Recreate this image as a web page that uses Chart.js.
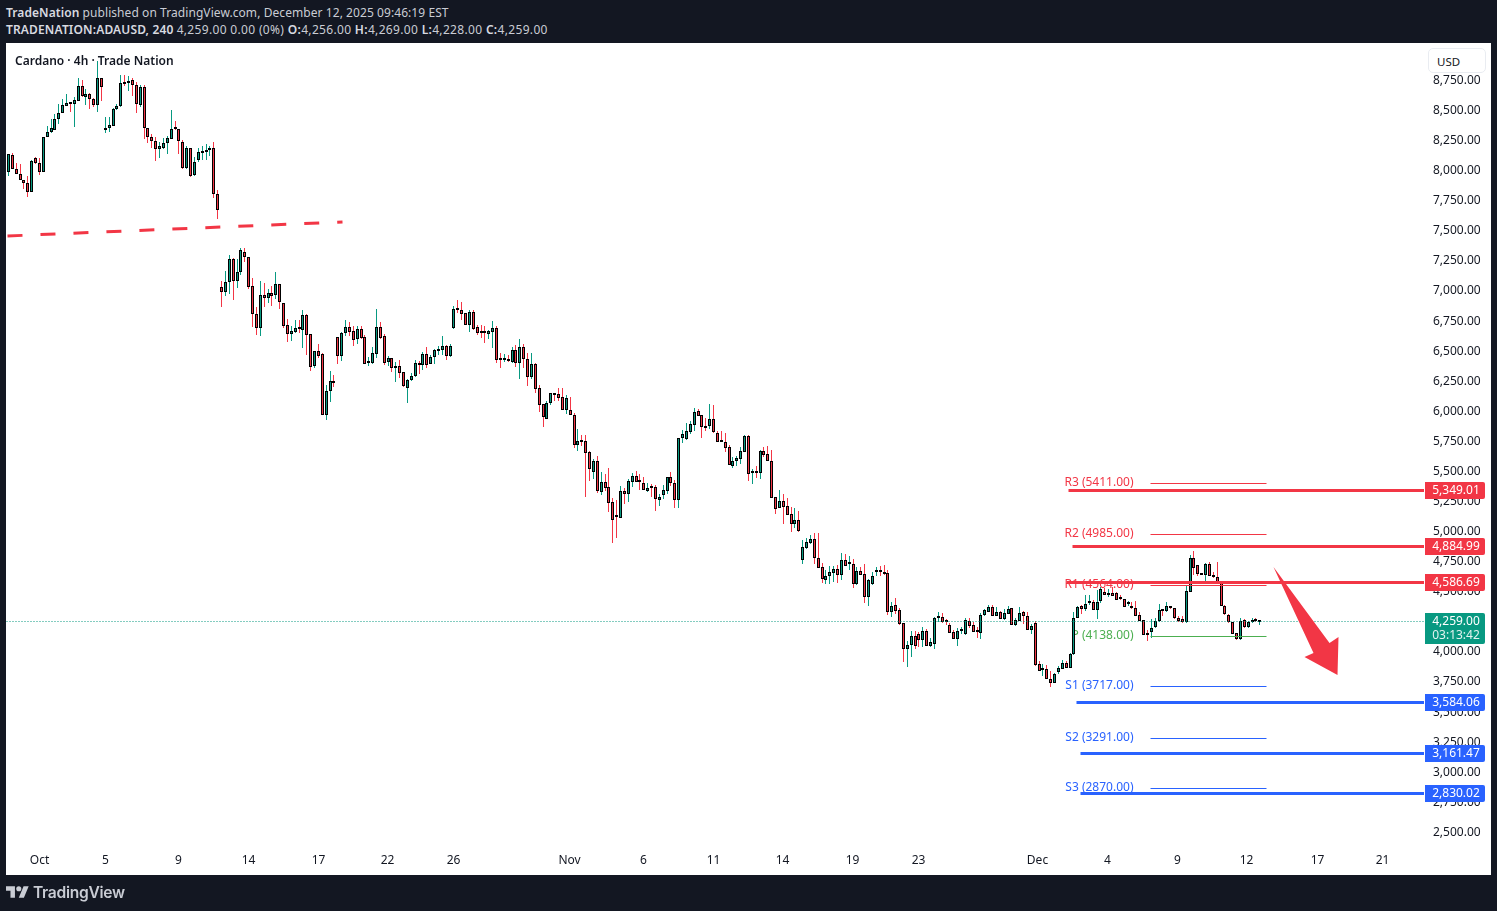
<!DOCTYPE html>
<html><head><meta charset="utf-8"><title>Cardano 4h</title>
<script src="https://cdn.jsdelivr.net/npm/chart.js@4"></script>
<style>
html,body{margin:0;padding:0;width:1497px;height:911px;background:#131722;overflow:hidden;font-family:"Noto Sans",sans-serif}
.a{position:absolute;white-space:nowrap}
#plot{left:6px;top:43px;width:1485px;height:832px;background:#fff}
canvas{position:absolute;left:0;top:0}
.h{color:#c9ccd4;font-size:12px;line-height:16px;left:6px;letter-spacing:.07px}
.h b{font-weight:600;color:#d8dae0}
.n{letter-spacing:.33px}
#usd{left:1428px;top:48px;width:58px;height:25px;background:#fff;border:1px solid #e9ecf1;border-radius:5px;box-sizing:border-box;color:#131722;font-size:11.5px;line-height:25px;padding-left:8px}
#ttl{left:15px;top:53px;color:#131722;font-size:12px;font-weight:600;line-height:16px}
#tv{left:33px;top:883px;color:#c9ccd4;font-size:15.6px;font-weight:600;line-height:20px;font-family:Inter,"Noto Sans",sans-serif;letter-spacing:-.3px}
</style></head><body>
<div class="a" id="plot"></div>
<div class="a h" style="top:5px"><b>TradeNation</b> published on TradingView.com, December 12, 2025 09:46:19 EST</div>
<div class="a h" style="top:22px"><b style="letter-spacing:.15px">TRADENATION:ADAUSD, 240</b> <span class="n">4,259.00 0.00 (0%) <b>O:</b>4,256.00 <b>H:</b>4,269.00 <b>L:</b>4,228.00 <b>C:</b>4,259.00</span></div>
<canvas id="c" width="1497" height="911"></canvas>
<div class="a" id="ttl">Cardano · 4h · Trade Nation</div>
<div class="a" id="usd">USD</div>
<svg class="a" style="left:6px;top:884px" width="23" height="16" viewBox="0 3 36 20"><path fill="#c9ccd4" d="M14 22H7V11H0V4h14v18zM28 22h-8l7.5-18h8L28 22z"/><circle fill="#c9ccd4" cx="20" cy="8" r="4"/></svg>
<div class="a" id="tv">TradingView</div>
<script>
const opens=[7989,8134,8014,7973,7923,7898,7829,8106,8064,7995,8280,8322,8344,8436,8485,8544,8560,8555,8585,8704,8618,8638,8596,8546,8771,8339,8355,8377,8513,8538,8729,8735,8754,8713,8552,8696,8355,8286,8253,8181,8189,8231,8269,8361,8347,8244,8023,8189,7965,8092,8153,8156,8172,8189,7807,7034,6998,7075,7266,7089,7158,7324,7283,7042,6815,6693,6967,6948,6984,6967,7058,6900,6718,6648,6665,6695,6682,6801,6643,6382,6501,6477,5975,6174,6252,6618,6465,6651,6701,6668,6601,6684,6618,6407,6407,6482,6701,6626,6416,6443,6360,6377,6327,6194,6260,6294,6402,6391,6477,6399,6452,6507,6510,6543,6460,6698,6851,6843,6818,6724,6826,6702,6660,6660,6649,6666,6693,6436,6433,6436,6416,6510,6408,6535,6436,6292,6394,6195,6062,5942,6075,6153,6145,6120,6017,6012,5970,5726,5754,5754,5663,5502,5588,5336,5413,5372,5247,5130,5119,5338,5319,5419,5463,5421,5405,5341,5372,5372,5269,5311,5344,5455,5405,5269,5784,5776,5834,5892,6003,5970,5878,5884,5936,5820,5753,5751,5704,5551,5593,5609,5668,5798,5493,5498,5493,5670,5645,5595,5288,5202,5255,5213,5147,5069,5097,4770,4869,4911,4939,4781,4706,4603,4637,4662,4692,4645,4764,4734,4731,4570,4673,4648,4462,4570,4670,4673,4664,4656,4337,4398,4349,4241,4030,4058,4133,4152,4102,4182,4055,4072,4288,4296,4252,4232,4166,4113,4179,4155,4260,4224,4174,4163,4307,4338,4374,4304,4335,4277,4321,4365,4230,4263,4332,4299,4188,4241,3900,3858,3861,3783,3747,3839,3864,3911,3872,3983,4288,4384,4357,4407,4423,4354,4431,4498,4476,4490,4490,4445,4445,4399,4384,4371,4307,4266,4149,4171,4213,4257,4349,4346,4376,4368,4282,4277,4249,4504,4781,4725,4645,4640,4731,4642,4623,4573,4385,4307,4252,4158,4108,4266,4210,4249,4268,4256];
const highs=[8139,8150,8067,8059,7929,7962,8092,8120,8106,8286,8377,8433,8472,8555,8599,8638,8577,8618,8774,8757,8682,8649,8605,8915,8771,8449,8452,8521,8555,8799,8799,8790,8771,8743,8715,8715,8355,8308,8286,8239,8272,8292,8508,8416,8347,8258,8208,8189,8120,8195,8208,8225,8208,8242,7843,7086,7169,7302,7275,7269,7360,7360,7283,7111,6870,7086,7070,7020,7045,7158,7058,6900,6770,6712,6762,6762,6845,6812,6643,6501,6562,6490,6222,6338,6305,6618,6662,6762,6745,6712,6712,6712,6637,6452,6537,6853,6745,6646,6463,6443,6413,6427,6327,6269,6319,6427,6421,6493,6535,6471,6521,6543,6629,6554,6562,6881,6928,6912,6818,6846,6846,6721,6721,6713,6679,6754,6713,6488,6480,6472,6541,6555,6605,6563,6488,6488,6402,6222,6062,6089,6153,6153,6197,6197,6139,6123,5987,5856,5807,5807,5674,5607,5632,5502,5482,5535,5283,5266,5383,5366,5444,5491,5507,5480,5457,5405,5399,5391,5316,5391,5455,5499,5433,5779,5848,5906,5920,6028,6022,5970,5945,6064,6055,5842,5839,5823,5723,5626,5631,5706,5806,5806,5523,5546,5681,5706,5715,5681,5288,5349,5316,5280,5205,5199,5174,4933,4955,4980,4989,4989,4742,4684,4717,4717,4725,4825,4817,4800,4775,4706,4711,4734,4609,4667,4706,4717,4725,4689,4421,4451,4365,4241,4097,4177,4177,4166,4213,4191,4119,4296,4340,4329,4274,4241,4185,4207,4213,4285,4285,4252,4213,4324,4363,4393,4393,4374,4346,4360,4388,4365,4288,4376,4346,4340,4235,4263,3930,3905,3894,3842,3825,3891,3936,3930,3991,4340,4385,4393,4476,4481,4434,4517,4542,4537,4526,4545,4498,4476,4445,4426,4421,4426,4338,4266,4185,4274,4282,4399,4360,4421,4385,4368,4299,4299,4559,4812,4842,4725,4656,4739,4753,4670,4750,4579,4390,4318,4252,4158,4282,4274,4260,4290,4285,4269];
const lows=[7962,8014,7973,7923,7851,7784,7829,8056,7970,7989,8280,8314,8339,8391,8480,8538,8494,8369,8582,8618,8549,8516,8533,8494,8585,8319,8325,8372,8508,8535,8710,8668,8627,8485,8533,8269,8236,8189,8086,8111,8181,8139,8267,8341,8139,8017,8017,7953,7962,8078,8092,8092,8128,7779,7604,6870,6964,6978,6928,7028,7136,7244,7020,6704,6637,6629,6870,6903,6878,6937,6853,6695,6579,6587,6657,6654,6529,6471,6338,6363,6446,5975,5931,6080,6205,6396,6421,6632,6629,6546,6562,6607,6393,6380,6399,6446,6601,6388,6380,6332,6247,6283,6208,6072,6255,6291,6313,6346,6366,6396,6396,6471,6471,6429,6457,6687,6820,6763,6721,6666,6679,6638,6616,6571,6605,6533,6408,6366,6413,6413,6408,6372,6272,6364,6214,6275,6159,6000,5876,5940,6056,6089,6089,6014,5981,5970,5701,5676,5718,5291,5424,5441,5327,5311,5344,5167,4909,4953,5119,5233,5250,5372,5419,5349,5349,5335,5291,5178,5214,5275,5316,5383,5200,5200,5740,5765,5814,5839,5964,5784,5839,5861,5820,5751,5748,5668,5559,5532,5548,5565,5662,5424,5399,5446,5443,5623,5590,5285,5149,5202,5066,5138,5002,5033,5002,4734,4861,4905,4736,4698,4576,4567,4567,4584,4579,4601,4717,4684,4534,4559,4642,4412,4385,4559,4637,4637,4645,4310,4296,4318,4227,3919,3878,3961,4030,4044,4047,4052,4049,4030,4249,4246,4232,4160,4110,4055,4152,4141,4199,4169,4119,4113,4302,4332,4302,4302,4274,4271,4318,4227,4221,4257,4235,4185,4152,3891,3847,3808,3781,3711,3742,3819,3861,3867,3869,3980,4282,4318,4346,4393,4351,4274,4407,4476,4462,4468,4434,4434,4376,4387,4362,4301,4260,4143,4094,4122,4207,4254,4301,4340,4360,4279,4249,4246,4246,4498,4645,4637,4640,4587,4634,4615,4568,4388,4310,4241,4149,4105,4105,4207,4205,4241,4254,4228];
const closes=[8139,8014,7973,7923,7898,7829,8081,8064,7995,8283,8322,8355,8430,8485,8546,8563,8555,8588,8704,8621,8638,8596,8546,8771,8696,8355,8380,8513,8538,8729,8724,8752,8713,8555,8696,8355,8286,8253,8181,8206,8231,8272,8347,8347,8247,8023,8189,7962,8078,8156,8159,8172,8189,7807,7674,6998,7075,7266,7089,7158,7341,7283,7039,6815,6693,6967,6948,6984,6964,7058,6909,6715,6648,6668,6693,6690,6801,6640,6374,6501,6465,5975,6169,6252,6241,6465,6651,6701,6665,6598,6684,6615,6399,6413,6485,6701,6610,6407,6443,6360,6377,6324,6216,6260,6294,6402,6391,6477,6391,6452,6510,6510,6543,6460,6543,6851,6848,6815,6724,6826,6685,6657,6657,6652,6671,6693,6433,6433,6436,6419,6510,6408,6535,6441,6292,6394,6192,6059,5959,6075,6153,6142,6117,6017,6111,5976,5726,5754,5751,5660,5527,5588,5344,5416,5369,5244,5103,5122,5338,5319,5421,5463,5419,5413,5352,5363,5369,5277,5288,5347,5455,5410,5269,5779,5812,5837,5895,5994,5967,5870,5867,5936,5828,5751,5751,5701,5559,5595,5612,5670,5798,5485,5498,5493,5670,5643,5590,5285,5194,5255,5210,5144,5069,5097,5011,4875,4914,4939,4781,4703,4612,4639,4667,4692,4645,4764,4720,4739,4570,4673,4645,4462,4598,4631,4673,4670,4653,4337,4382,4346,4238,4030,4058,4133,4052,4105,4182,4055,4083,4282,4290,4249,4249,4163,4113,4177,4182,4266,4221,4171,4166,4310,4349,4374,4304,4332,4277,4327,4360,4230,4268,4324,4299,4188,4218,3894,3847,3861,3781,3747,3817,3867,3908,3872,3986,4290,4376,4357,4401,4415,4354,4423,4531,4481,4490,4473,4437,4440,4379,4401,4365,4304,4263,4146,4143,4207,4257,4349,4343,4382,4365,4282,4263,4249,4507,4781,4703,4648,4648,4731,4637,4623,4573,4388,4316,4252,4152,4108,4257,4213,4252,4268,4257,4259];

const xTickLabels=["Oct","5","9","14","17","22","26","Nov","6","11","14","19","23","Dec","4","9","12","17","21"];
const xTickBars=[8,25,44,62,80,97.8,115,144.9,164,182,199.9,217.8,234.9,265.6,283.8,301.8,319.6,337.8,354.6];
const priceTicks=[2500,2750,3000,3250,3500,3750,4000,4250,4500,4750,5000,5250,5500,5750,6000,6250,6500,6750,7000,7250,7500,7750,8000,8250,8500,8750];

const lastPrice=4259;
const resistanceLevels=[5349.01,4884.99,4586.69];
const resistanceStarts=[273.5,274.6,273.1];
const supportLevels=[3584.06,3161.47,2830.02];
const supportStarts=[275.7,276.7,276.7];
const pivotNames=["R3","R2","R1","P","S1","S2","S3"];
const pivotValues=[5411,4985,4564,4138,3717,3291,2870];
const pivotColors=["#F23645","#F23645","#F23645","#4CAF50","#2962FF","#2962FF","#2962FF"];
const trendBars=[-0.3,86.2];
const trendPrices=[7465,7581];
const arrowBars=[326.6,336.8,334.4,343,343.3,341.1];
const arrowPrices=[4706,3992,3958,3811,4125,4075];

const UP="#089981",DN="#F23645";
const dirColor=opens.map((o,i)=>closes[i]>=o?UP:DN);
const fmt=v=>v.toLocaleString("en-US",{minimumFractionDigits:2,maximumFractionDigits:2});
const snap=(off)=>function(scale){
  if(scale._snapped)return; scale._snapped=true;
  const base=scale.getPixelForValue.bind(scale);
  scale.getPixelForValue=v=>Math.round(base(v))+off;
};
const hline=(y,x0,x1,color,w,extra)=>Object.assign({type:"line",data:[{x:x0,y:y},{x:x1,y:y}],borderColor:color,borderWidth:w,pointRadius:0,yAxisID:"yL",order:0,fill:false,tension:0},extra||{});
const datasets=[
 {type:"bar",grouped:false,order:3,data:opens.map((o,i)=>({x:i,y:[lows[i],highs[i]]})),backgroundColor:dirColor,borderWidth:0,barThickness:1,inflateAmount:0},
 {type:"bar",grouped:false,order:2,data:opens.map((o,i)=>({x:i,y:[Math.min(o,closes[i]),Math.max(o,closes[i])]})),backgroundColor:dirColor,borderColor:"#000",borderWidth:1,borderSkipped:false,barThickness:3,minBarLength:2,inflateAmount:0},
 hline(lastPrice,-0.5,365.5,UP,1,{borderDash:[1,2],order:1}),
 {type:"line",data:trendBars.map((b,i)=>({x:b,y:trendPrices[i]})),borderColor:DN,borderWidth:3,borderDash:[15,18],pointRadius:0,yAxisID:"y",order:0,tension:0,fill:false},
 {type:"line",data:arrowBars.map((b,i)=>({x:b,y:arrowPrices[i]})).concat([{x:arrowBars[0],y:arrowPrices[0]}]),borderWidth:0,borderColor:DN,backgroundColor:DN,pointRadius:0,yAxisID:"y",order:-1,tension:0,fill:"shape"},
];
pivotValues.forEach((v,i)=>datasets.push(hline(v,294.8,324.8,pivotColors[i],1,{order:1})));
resistanceLevels.forEach((v,i)=>datasets.push(hline(v,resistanceStarts[i],365.5,DN,3)));
supportLevels.forEach((v,i)=>datasets.push(hline(v,supportStarts[i],365.5,"#2962FF",3)));

const overlay={id:"overlay",
 beforeDatasetsDraw(ch){
  const c=ch.ctx,x=ch.scales.x,y=ch.scales.y;
  c.save();c.font='12px "Noto Sans"';c.textAlign="right";c.textBaseline="middle";
  pivotValues.forEach((v,i)=>{c.fillStyle=pivotColors[i];c.fillText(pivotNames[i]+" ("+fmt(v).replace(",","")+")",x.getPixelForValue(290.7)-1,y.getPixelForValue(v));});
  c.restore();
 },
 afterDraw(ch){
  const c=ch.ctx,y=ch.scales.yL;
  const tag=(v,color)=>{const p=Math.round(y.getPixelForValue(v));c.fillStyle=color;c.beginPath();c.roundRect(1425,p-9,60,17,[0,2,2,0]);c.fill();c.fillStyle="#fff";c.fillText(fmt(v),1456,p);};
  c.save();c.font='12px "Noto Sans"';c.textAlign="center";c.textBaseline="middle";
  resistanceLevels.forEach(v=>tag(v,DN));
  supportLevels.forEach(v=>tag(v,"#2962FF"));
  const p=Math.round(y.getPixelForValue(lastPrice));
  c.fillStyle=UP;c.beginPath();c.roundRect(1425,p-9,60,31,[0,2,2,0]);c.fill();
  c.fillStyle="#fff";c.fillText(fmt(lastPrice),1456,p);c.fillStyle="#e3f3f0";c.fillText("03:13:42",1456,p+14);
  c.restore();
 }};

new Chart(document.getElementById("c"),{
 data:{datasets},
 plugins:[overlay],
 options:{responsive:false,animation:false,devicePixelRatio:1,
  layout:{padding:{left:6,top:43,right:6,bottom:36}},
  plugins:{legend:{display:false},tooltip:{enabled:false}},
  scales:{
   x:{type:"linear",offset:false,min:-0.5,max:365.5,grid:{display:false,offset:false},border:{display:false},
     afterBuildTicks(s){s.ticks=xTickBars.map(v=>({value:v}));snap(0.5)(s);},
     afterFit(s){s.height=32;s.paddingLeft=0;s.paddingRight=0;},
     ticks:{autoSkip:false,maxRotation:0,padding:2,color:"#131722",font:{family:"Noto Sans",size:12},callback:v=>xTickLabels[xTickBars.indexOf(v)]}},
   y:{type:"linear",position:"right",min:2416,max:9065,grid:{display:false},border:{display:false},
     afterBuildTicks(s){s.ticks=priceTicks.map(v=>({value:v}));snap(0)(s);},
     afterFit(s){s.width=67;},
     ticks:{autoSkip:false,align:"center",crossAlign:"near",padding:1,labelOffset:-0.4,color:"#131722",font:{family:"Noto Sans",size:12},callback:v=>fmt(v)}},
   yL:{type:"linear",display:false,position:"right",min:2416,max:9065,
     afterBuildTicks(s){snap(0.5)(s);},afterFit(s){s.width=0;}}
  }}
});
</script></body></html>
